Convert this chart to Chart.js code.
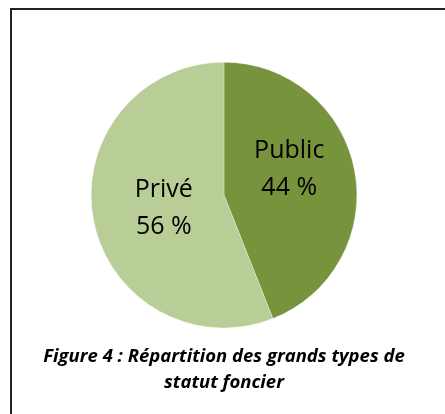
<!DOCTYPE html>
<html>
<head>
<meta charset="utf-8">
<script src="https://cdn.jsdelivr.net/npm/chart.js@4"></script>
<style>
  html, body { margin: 0; padding: 0; background: #fff; }
  #wrap { position: relative; width: 445px; height: 414px; overflow: hidden; }
  #frameTop { position: absolute; left: 10px; top: 8px; width: 435px; height: 2px; background: #222; }
  #frameLeft { position: absolute; left: 10px; top: 8px; width: 2px; height: 406px; background: #222; }
  canvas { position: absolute; left: 0; top: 0; }
</style>
</head>
<body>
<div id="wrap">
  <canvas id="pie" width="445" height="414"></canvas>
  <div id="frameTop"></div>
  <div id="frameLeft"></div>
</div>
<script>
let categories = ["Public", "Privé"];
let shares = [44, 56];
let sliceColors = ["#77933C", "#B9CD96"];
let titleLines = ["Figure 4 : Répartition des grands types de", "statut foncier"];

// labels inside the slices, name on top and percentage below
let sliceLabels = {
  id: "sliceLabels",
  afterDatasetsDraw: function (chart) {
    let ctx = chart.ctx;
    let meta = chart.getDatasetMeta(0);
    ctx.save();
    ctx.font = "25px 'Open Sans'";
    ctx.fillStyle = "#000";
    ctx.textAlign = "center";
    ctx.textBaseline = "middle";
    meta.data.forEach(function (arc, i) {
      let pos = arc.tooltipPosition();
      let y = pos.y;
      let x = pos.x;
      if (i === 0) y -= 14;
      else x += 5;
      ctx.fillText(categories[i], x, y - 18);
      ctx.fillText(shares[i] + " %", x, y + 19);
    });
    ctx.restore();
  },
};

let pie = new Chart(document.getElementById("pie").getContext("2d"), {
  type: "pie",
  data: {
    labels: categories,
    datasets: [
      {
        data: shares,
        backgroundColor: sliceColors,
        borderColor: "rgba(255,255,255,0.6)",
        borderWidth: 0.5,
      },
    ],
  },
  options: {
    responsive: false,
    animation: false,
    layout: { padding: { top: 62, left: 3, right: 0, bottom: 18 } },
    plugins: {
      legend: { display: false },
      tooltip: { enabled: false },
      title: {
        display: true,
        position: "bottom",
        text: titleLines,
        color: "#000",
        font: { family: "'Open Sans'", size: 18.5, weight: "bold", style: "italic", lineHeight: 1.4 },
        padding: { top: 16, bottom: 0 },
      },
    },
  },
  plugins: [sliceLabels],
});
</script>
</body>
</html>
